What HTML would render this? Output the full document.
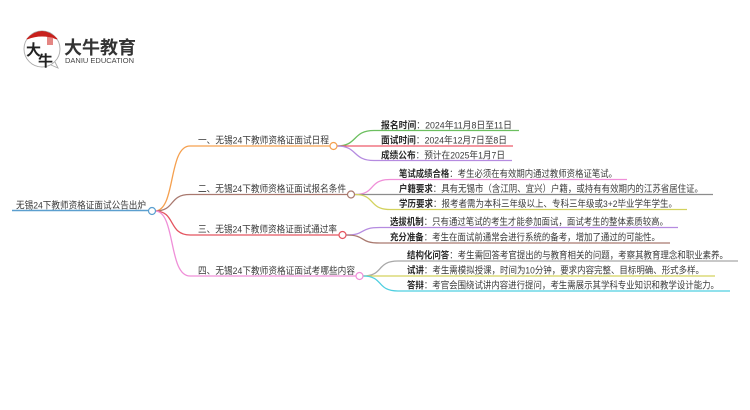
<!DOCTYPE html>
<html><head><meta charset="utf-8"><style>
html,body{margin:0;padding:0;background:#fff}
svg{display:block}
text{font-family:"Liberation Sans","Noto Sans CJK SC",sans-serif;fill:#3a3a3a;font-size:9.6px}
.t{filter:url(#b)}
.k{font-weight:bold;fill:#2a2a2a}
path,line{fill:none}
</style></head><body>
<svg width="750" height="410" viewBox="0 0 750 410" xmlns="http://www.w3.org/2000/svg">
<defs><filter id="b" x="-5%" y="-30%" width="110%" height="160%"><feGaussianBlur stdDeviation="0.25"/></filter></defs>

<!-- logo -->
<circle cx="42" cy="49" r="18" fill="#fff" stroke="#aaa" stroke-width="0.9"/>
<path d="M27 39 Q42 24 57 39 Q42 33 27 39Z" stroke="#c8201c" stroke-width="1" style="fill:#c8201c"/>
<path d="M51 65 L58 68 L55 62" stroke="#aaa" stroke-width="0.9"/>
<rect x="47" y="37" width="6" height="8" fill="#d9534f" opacity="0.7"/>
<text x="26" y="55" style="font-size:15px;font-weight:bold;fill:#222" class="t">大</text>
<text x="38" y="66" style="font-size:15px;font-weight:bold;fill:#222" class="t">牛</text>
<text x="64" y="54" textLength="72" lengthAdjust="spacingAndGlyphs" style="font-size:18px;font-weight:bold;fill:#333">大牛教育</text>
<text x="65" y="63" textLength="69" lengthAdjust="spacingAndGlyphs" style="font-size:7px;fill:#444">DANIU EDUCATION</text>

<!-- root -->
<line x1="12" y1="210.5" x2="149" y2="210.5" stroke="#5b9fcf" stroke-width="1.6"/>
<text class="t" x="16" y="208.500" textLength="130" lengthAdjust="spacingAndGlyphs">无锡24下教师资格证面试公告出炉</text>

<!-- main branches -->
<path d="M155 211 C176 211 168 146 190 146 L330 146" stroke="#f5a04f" stroke-width="1.3"/>
<path d="M155 211 C176 211 168 194.5 190 194.5 L348 194.5" stroke="#a9796f" stroke-width="1.3"/>
<path d="M155 211 C176 211 168 235 190 235 L339 235" stroke="#e4545f" stroke-width="1.3"/>
<path d="M155 211 C176 211 168 276 190 276 L356 276" stroke="#ef8fd8" stroke-width="1.3"/>

<text class="t" x="198" y="143.500" textLength="131" lengthAdjust="spacingAndGlyphs">一、无锡24下教师资格证面试日程</text>
<text class="t" x="198" y="192" textLength="148" lengthAdjust="spacingAndGlyphs">二、无锡24下教师资格证面试报名条件</text>
<text class="t" x="198" y="232.500" textLength="139" lengthAdjust="spacingAndGlyphs">三、无锡24下教师资格证面试通过率</text>
<text class="t" x="198" y="274" textLength="157" lengthAdjust="spacingAndGlyphs">四、无锡24下教师资格证面试考哪些内容</text>

<!-- leaves 1 -->
<path d="M337 146 C358 146 352 130.5 374 130.5 L519 130.5" stroke="#6cbf5f" stroke-width="1.3"/>
<path d="M337 146 L513 146" stroke="#ee5a6a" stroke-width="1.3"/>
<path d="M337 146 C358 146 352 160.5 374 160.5 L512 160.5" stroke="#b58be0" stroke-width="1.3"/>
<text class="t" x="381" y="128.500" textLength="131" lengthAdjust="spacingAndGlyphs"><tspan class="k">报名时间</tspan>：2024年11月8日至11日</text>
<text class="t" x="381" y="143.500" textLength="126" lengthAdjust="spacingAndGlyphs"><tspan class="k">面试时间</tspan>：2024年12月7日至8日</text>
<text class="t" x="381" y="158.500" textLength="124" lengthAdjust="spacingAndGlyphs"><tspan class="k">成绩公布</tspan>：预计在2025年1月7日</text>

<!-- leaves 2 -->
<path d="M355 194.5 C376 194.5 368 179.5 390 179.500 L627 179.500" stroke="#ef8fd8" stroke-width="1.3"/>
<path d="M355 194.5 L713 194.5" stroke="#8c8c8c" stroke-width="1.3"/>
<path d="M355 194.5 C376 194.5 368 209.5 390 209.500 L687 209.500" stroke="#d3d25e" stroke-width="1.3"/>
<text class="t" x="399" y="177" textLength="218" lengthAdjust="spacingAndGlyphs"><tspan class="k">笔试成绩合格</tspan>：考生必须在有效期内通过教师资格证笔试。</text>
<text class="t" x="399" y="192" textLength="304" lengthAdjust="spacingAndGlyphs"><tspan class="k">户籍要求</tspan>：具有无锡市（含江阴、宜兴）户籍，或持有有效期内的江苏省居住证。</text>
<text class="t" x="399" y="207" textLength="278" lengthAdjust="spacingAndGlyphs"><tspan class="k">学历要求</tspan>：报考者需为本科三年级以上、专科三年级或3+2毕业学年学生。</text>

<!-- leaves 3 -->
<path d="M346 235 C367 235 358 227.5 380 227.5 L678 227.5" stroke="#b58be0" stroke-width="1.3"/>
<path d="M346 235 C367 235 358 243 380 243 L670 243" stroke="#a9796f" stroke-width="1.3"/>
<text class="t" x="390" y="225" textLength="278" lengthAdjust="spacingAndGlyphs"><tspan class="k">选拔机制</tspan>：只有通过笔试的考生才能参加面试，面试考生的整体素质较高。</text>
<text class="t" x="390" y="240.500" textLength="270" lengthAdjust="spacingAndGlyphs"><tspan class="k">充分准备</tspan>：考生在面试前通常会进行系统的备考，增加了通过的可能性。</text>

<!-- leaves 4 -->
<path d="M363 276 C384 276 376 261 398 261 L738 261" stroke="#a8a8a8" stroke-width="1.3"/>
<path d="M363 276 L715 276" stroke="#d3d25e" stroke-width="1.3"/>
<path d="M363 276 C384 276 376 291 398 291 L730 291" stroke="#4fcfe0" stroke-width="1.3"/>
<text class="t" x="407" y="258.500" textLength="321" lengthAdjust="spacingAndGlyphs"><tspan class="k">结构化问答</tspan>：考生需回答考官提出的与教育相关的问题，考察其教育理念和职业素养。</text>
<text class="t" x="407" y="273.500" textLength="297" lengthAdjust="spacingAndGlyphs"><tspan class="k">试讲</tspan>：考生需模拟授课，时间为10分钟，要求内容完整、目标明确、形式多样。</text>
<text class="t" x="407" y="288.500" textLength="312" lengthAdjust="spacingAndGlyphs"><tspan class="k">答辩</tspan>：考官会围绕试讲内容进行提问，考生需展示其学科专业知识和教学设计能力。</text>

<!-- nodes -->
<circle cx="152" cy="211" r="3.500" fill="#fff" stroke="#5b9fcf" stroke-width="1.2"/>
<circle cx="333.500" cy="146" r="3.500" fill="#fff" stroke="#f5a04f" stroke-width="1.2"/>
<circle cx="351" cy="194.500" r="3.500" fill="#fff" stroke="#a9796f" stroke-width="1.2"/>
<circle cx="342.500" cy="235" r="3.500" fill="#fff" stroke="#e4545f" stroke-width="1.2"/>
<circle cx="359.500" cy="276" r="3.500" fill="#fff" stroke="#ef8fd8" stroke-width="1.2"/>
</svg>
</body></html>
